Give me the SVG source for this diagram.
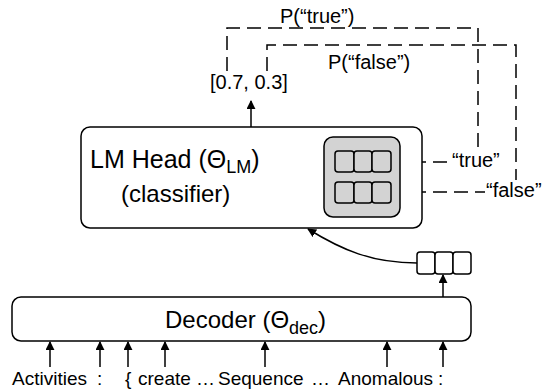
<svg xmlns="http://www.w3.org/2000/svg" width="543" height="392" viewBox="0 0 543 392">
<style>
text{font-family:"Liberation Sans",Arial,sans-serif;fill:#000}
.box{fill:#fff;stroke:#000;stroke-width:1.5}
.cell{fill:#d3d3d3;stroke:#000;stroke-width:1.5}
.wcell{fill:#fff;stroke:#000;stroke-width:1.5}
.ln{fill:none;stroke:#000;stroke-width:1.5}
.dash{fill:none;stroke:#000;stroke-width:1.5;stroke-dasharray:14 7}
.lbl{font-size:20px}
.tok{font-size:19px}
</style>
<defs>
<marker id="ah" viewBox="0 0 10 10" refX="9" refY="5" markerWidth="9" markerHeight="9" markerUnits="userSpaceOnUse" orient="auto">
<path d="M0,0 L10,5 L0,10 z" fill="#000"/>
</marker>
</defs>
<g id="connectors">
<path class="dash" d="M227,71 V28 H478 V148"/>
<path class="dash" d="M267,71 V45 H516 V180"/>
<path class="dash" d="M391,162 H450"/>
<path class="dash" d="M391,192 H485"/>
<path class="ln" d="M251,127 V101" marker-end="url(#ah)"/>
<path class="ln" d="M443,297 V275" marker-end="url(#ah)"/>
<path class="ln" d="M417,263 C372,263 342,250 308,229" marker-end="url(#ah)"/>
<path class="ln" d="M50,367 V342" marker-end="url(#ah)"/>
<path class="ln" d="M100,367 V342" marker-end="url(#ah)"/>
<path class="ln" d="M128,367 V342" marker-end="url(#ah)"/>
<path class="ln" d="M165,367 V342" marker-end="url(#ah)"/>
<path class="ln" d="M265,367 V342" marker-end="url(#ah)"/>
<path class="ln" d="M387,367 V342" marker-end="url(#ah)"/>
<path class="ln" d="M443,367 V342" marker-end="url(#ah)"/>
</g>
<g id="labels">
<text class="lbl" x="280" y="23">P(“true”)</text>
<text class="lbl" x="328" y="69">P(“false”)</text>
<text class="lbl" x="210" y="89">[0.7, 0.3]</text>
<text class="lbl" x="452" y="167">“true”</text>
<text class="lbl" x="486" y="197">“false”</text>
</g>
<g id="lmhead">
<rect class="box" x="81" y="127" width="341" height="101" rx="9"/>
<text x="90" y="168" font-size="25">LM Head (Θ<tspan font-size="18" dy="5">LM</tspan><tspan dy="-5">)</tspan></text>
<text x="121" y="202" font-size="24">(classifier)</text>
<rect x="324" y="137" width="76" height="80" rx="9" fill="#d3d3d3" stroke="#000" stroke-width="1.5"/>
<rect class="cell" x="335" y="151" width="19" height="21" rx="3"/>
<rect class="cell" x="354" y="151" width="18" height="21" rx="3"/>
<rect class="cell" x="372" y="151" width="19" height="21" rx="3"/>
<rect class="cell" x="335" y="182" width="19" height="21" rx="3"/>
<rect class="cell" x="354" y="182" width="18" height="21" rx="3"/>
<rect class="cell" x="372" y="182" width="19" height="21" rx="3"/>
</g>
<g id="vector">
<rect class="wcell" x="417" y="252" width="18" height="22" rx="3"/>
<rect class="wcell" x="435" y="252" width="18" height="22" rx="3"/>
<rect class="wcell" x="453" y="252" width="18" height="22" rx="3"/>
</g>
<g id="decoder">
<rect class="box" x="12" y="297" width="459" height="44" rx="9"/>
<text x="165" y="328" font-size="24">Decoder (Θ<tspan font-size="18" dy="6">dec</tspan><tspan dy="-6">)</tspan></text>
</g>
<g id="tokens">
<text class="tok" x="12" y="385">Activities</text>
<text class="tok" x="97" y="385">:</text>
<text class="tok" x="125" y="385">{</text>
<text class="tok" x="138" y="385">create …</text>
<text class="tok" x="218" y="385">Sequence</text>
<text class="tok" x="311" y="385">…</text>
<text class="tok" x="338" y="385">Anomalous</text>
<text class="tok" x="438" y="385">:</text>
</g>
</svg>
